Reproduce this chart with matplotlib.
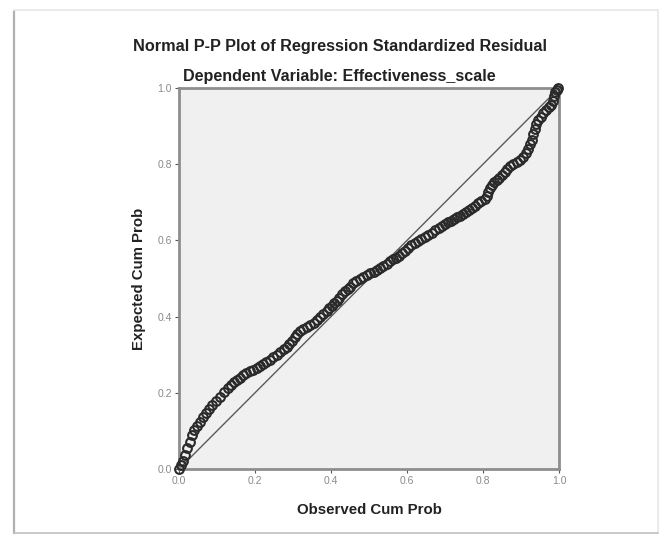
import matplotlib
matplotlib.use("Agg")
import matplotlib.pyplot as plt
from matplotlib.patches import Rectangle
from matplotlib.lines import Line2D

plt.rcParams['font.family'] = ['Liberation Sans', 'DejaVu Sans']

title = "Normal P-P Plot of Regression Standardized Residual"
subtitle = "Dependent Variable: Effectiveness_scale"
x_label = "Observed Cum Prob"
y_label = "Expected Cum Prob"
tick_values = [0.0, 0.2, 0.4, 0.6, 0.8, 1.0]
tick_labels = ["0.0", "0.2", "0.4", "0.6", "0.8", "1.0"]

observed = [
    0.000, 0.005, 0.010, 0.016, 0.022, 0.028, 0.034, 0.040, 0.047, 0.055,
    0.064, 0.072, 0.080, 0.088, 0.097, 0.108, 0.118, 0.128, 0.138, 0.146,
    0.152, 0.160, 0.168, 0.176, 0.186, 0.195, 0.204, 0.213, 0.222, 0.230,
    0.239, 0.248, 0.257, 0.266, 0.275, 0.283, 0.290, 0.297, 0.304, 0.310,
    0.318, 0.327, 0.336, 0.345, 0.354, 0.362, 0.370, 0.380, 0.389, 0.396,
    0.403, 0.409, 0.415, 0.421, 0.428, 0.436, 0.444, 0.450, 0.458, 0.467,
    0.476, 0.485, 0.494, 0.503, 0.512, 0.521, 0.530, 0.538, 0.547, 0.555,
    0.563, 0.571, 0.579, 0.587, 0.595, 0.603, 0.611, 0.620, 0.629, 0.638,
    0.647, 0.656, 0.665, 0.674, 0.683, 0.692, 0.700, 0.708, 0.716, 0.724,
    0.732, 0.740, 0.748, 0.756, 0.764, 0.772, 0.780, 0.788, 0.796, 0.804,
    0.810, 0.814, 0.818, 0.823, 0.829, 0.836, 0.843, 0.850, 0.857, 0.864,
    0.872, 0.880, 0.889, 0.897, 0.905, 0.912, 0.918, 0.923, 0.928, 0.932,
    0.936, 0.940, 0.946, 0.953, 0.959, 0.966, 0.973, 0.980, 0.984, 0.987,
    0.990, 0.994, 0.998,
]
expected = [
    0.000, 0.010, 0.022, 0.037, 0.055, 0.072, 0.088, 0.102, 0.112, 0.124,
    0.137, 0.148, 0.157, 0.168, 0.178, 0.190, 0.201, 0.212, 0.221, 0.228,
    0.234, 0.240, 0.246, 0.251, 0.256, 0.260, 0.265, 0.271, 0.276, 0.281,
    0.286, 0.293, 0.300, 0.308, 0.314, 0.320, 0.328, 0.337, 0.346, 0.354,
    0.361, 0.368, 0.374, 0.378, 0.382, 0.390, 0.398, 0.406, 0.414, 0.422,
    0.429, 0.435, 0.442, 0.450, 0.459, 0.466, 0.472, 0.479, 0.487, 0.494,
    0.500, 0.505, 0.510, 0.514, 0.518, 0.522, 0.527, 0.533, 0.539, 0.545,
    0.550, 0.555, 0.560, 0.566, 0.573, 0.580, 0.587, 0.593, 0.598, 0.603,
    0.608, 0.614, 0.620, 0.626, 0.632, 0.638, 0.643, 0.647, 0.652, 0.656,
    0.661, 0.665, 0.669, 0.674, 0.679, 0.685, 0.691, 0.697, 0.703, 0.709,
    0.716, 0.726, 0.737, 0.746, 0.752, 0.758, 0.764, 0.771, 0.779, 0.787,
    0.794, 0.800, 0.805, 0.811, 0.820, 0.830, 0.841, 0.852, 0.864, 0.878,
    0.893, 0.905, 0.915, 0.925, 0.934, 0.942, 0.949, 0.955, 0.965, 0.978,
    0.990, 0.995, 1.000,
]
reference_line = [0.0, 1.0]

W, H = 662, 536
fig = plt.figure(figsize=(W / 100, H / 100), dpi=100)
fig.patch.set_facecolor("white")

# outer frame
fig.add_artist(Rectangle((14 / W, 1 - 533 / H), (658 - 14) / W, (533 - 10) / H,
                         transform=fig.transFigure, fill=False,
                         edgecolor="#e6e6e6", linewidth=1.2))
fig.add_artist(Line2D([14 / W, 14 / W], [1 - 533 / H, 1 - 12 / H],
                      transform=fig.transFigure, color="#b0b0b0", linewidth=1.6))
fig.add_artist(Line2D([14 / W, 658 / W], [1 - 533 / H, 1 - 533 / H],
                      transform=fig.transFigure, color="#c4c4c4", linewidth=1.2))

ax = fig.add_axes([179 / W, 1 - 469 / H, 380 / W, 381 / H])
ax.set_facecolor("#f0f0f0")
ax.set_xlim(0, 1)
ax.set_ylim(0, 1)

ax.plot(reference_line, reference_line, color="#5a5a5a", linewidth=1.0, zorder=2)
ax.plot(observed, expected, linestyle="none", marker="o", markersize=6.3,
        markerfacecolor="none", markeredgecolor="#2a2a2a", markeredgewidth=1.5,
        zorder=3, clip_on=False)

for s in ax.spines.values():
    s.set_color("#8e8e8e")
    s.set_linewidth(2.0)

ax.set_xticks(tick_values)
ax.set_xticklabels(tick_labels)
ax.set_yticks(tick_values)
ax.set_yticklabels(tick_labels)
ax.tick_params(axis="both", direction="out", length=3, width=0.8, color="#555555",
               labelsize=7.5, labelcolor="#8a8a8a", pad=2)

ax.set_xlabel(x_label, fontsize=10.8, fontweight="bold", color="#222222", labelpad=12)
ax.set_ylabel(y_label, fontsize=10.8, fontweight="bold", color="#222222", labelpad=8)

fig.text(340 / W, 1 - 46 / H, title, ha="center", va="center",
         fontsize=11.7, fontweight="bold", color="#222222")
fig.text(339 / W, 1 - 77 / H, subtitle, ha="center", va="center",
         fontsize=11.6, fontweight="bold", color="#222222")

fig.savefig("out.png", dpi=100, facecolor="white")
